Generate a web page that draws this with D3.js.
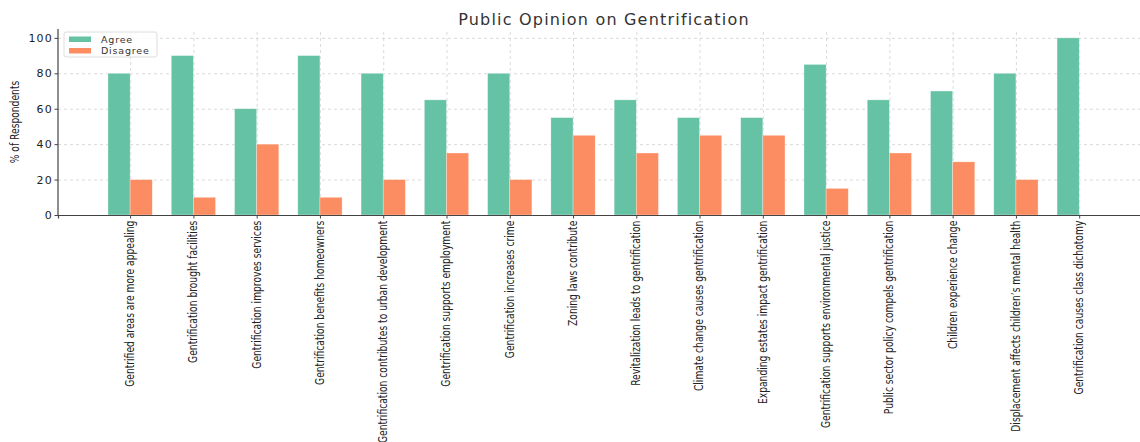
<!DOCTYPE html>
<html>
<head>
<meta charset="utf-8">
<script src="https://cdn.jsdelivr.net/npm/d3@7"></script>
<style>
  body { margin: 0; background: #fff; }
  .grid line { stroke: #d0d0d0; stroke-dasharray: 3,3; stroke-width: 0.8; }
  .grid path { display: none; }
</style>
</head>
<body>
<div id="chart"></div>
<script>
// statements on the x axis
var statements = [
    "Gentrified areas are more appealing",
    "Gentrification brought facilities",
    "Gentrification improves services",
    "Gentrification benefits homeowners",
    "Gentrification contributes to urban development",
    "Gentrification supports employment",
    "Gentrification increases crime",
    "Zoning laws contribute",
    "Revitalization leads to gentrification",
    "Climate change causes gentrification",
    "Expanding estates impact gentrification",
    "Gentrification supports environmental justice",
    "Public sector policy compels gentrification",
    "Children experience change",
    "Displacement affects children\u2019s mental health",
    "Gentrification causes class dichotomy"
];
var agree = [80, 90, 60, 90, 80, 65, 80, 55, 65, 55, 55, 85, 65, 70, 80, 100];
var disagree = [20, 10, 40, 10, 20, 35, 20, 45, 35, 45, 45, 15, 35, 30, 20, 0];
var yTicks = [0, 20, 40, 60, 80, 100];

var W = 1140, H = 442;
var mLeft = 58, mRight = 1145, mTop = 29, mBottom = 215;
var barW = 0.35;

var svg = d3.select("#chart").append("svg")
    .attr("width", W)
    .attr("height", H);

// linear x scale over category index, like matplotlib
var xScale = d3.scaleLinear()
    .domain([-1.14, 16.04])
    .range([mLeft, mRight]);

var yScale = d3.scaleLinear()
    .domain([0, 105])
    .range([mBottom, mTop]);

// grid lines
svg.append("g")
    .attr("class", "grid")
    .attr("transform", "translate(0," + mBottom + ")")
    .call(d3.axisBottom(xScale).tickValues(d3.range(statements.length))
        .tickSize(-(mBottom - mTop)).tickFormat(""));

svg.append("g")
    .attr("class", "grid")
    .attr("transform", "translate(" + mLeft + ",0)")
    .call(d3.axisLeft(yScale).tickValues(yTicks)
        .tickSize(-(mRight - mLeft)).tickFormat(""));

// bars
var series = [
    { name: "Agree", values: agree, color: "#66c2a5", offset: -barW },
    { name: "Disagree", values: disagree, color: "#fc8d62", offset: 0 }
];

series.forEach(function (s) {
    svg.append("g").selectAll("rect")
        .data(s.values)
        .enter().append("rect")
        .attr("x", function (d, i) { return xScale(i + s.offset); })
        .attr("width", xScale(barW) - xScale(0))
        .attr("y", function (d) { return yScale(d); })
        .attr("height", function (d) { return yScale(0) - yScale(d); })
        .attr("fill", s.color)
        .attr("stroke", "#fff")
        .attr("stroke-opacity", 0.5)
        .attr("stroke-width", 0.6);
});

// x axis
var xAxis = svg.append("g")
    .attr("transform", "translate(0," + mBottom + ")")
    .call(d3.axisBottom(xScale).tickValues(d3.range(statements.length))
        .tickSize(3.5).tickFormat(function (d) { return statements[d]; }));
xAxis.select(".domain").attr("stroke", "#444").attr("stroke-width", 1.2);
xAxis.selectAll(".tick line").attr("stroke", "#444");
xAxis.selectAll(".tick text")
    .attr("transform", "rotate(-90) scale(0.815,1)")
    .attr("x", -7)
    .attr("y", -1)
    .attr("dy", "0.35em")
    .style("text-anchor", "end")
    .style("font-family", "'Liberation Sans Narrow', 'DejaVu Sans Condensed', sans-serif")
    .style("font-size", "12.5px")
    .attr("fill", "#222");

// y axis
var yAxis = svg.append("g")
    .attr("transform", "translate(" + mLeft + ",0)")
    .call(d3.axisLeft(yScale).tickValues(yTicks).tickSize(3.5));
yAxis.select(".domain").attr("d", "M0," + mTop + "V" + mBottom)
    .attr("stroke", "#444").attr("stroke-width", 1.2);
yAxis.selectAll(".tick line").attr("stroke", "#444");
yAxis.selectAll(".tick text")
    .attr("x", -5)
    .style("font-family", "'DejaVu Sans', sans-serif")
    .style("font-size", "11px")
    .style("letter-spacing", "1.2px")
    .attr("fill", "#222");

svg.append("text")
    .attr("transform", "translate(19," + 122 + ") rotate(-90) scale(0.815,1)")
    .attr("text-anchor", "middle")
    .style("font-family", "'Liberation Sans Narrow', 'DejaVu Sans Condensed', sans-serif")
    .style("font-size", "12.5px")
    .attr("fill", "#222")
    .text("% of Respondents");

// title
svg.append("text")
    .attr("x", 604)
    .attr("y", 25)
    .attr("text-anchor", "middle")
    .style("font-family", "'DejaVu Sans', sans-serif")
    .style("font-size", "16px")
    .style("letter-spacing", "1.2px")
    .attr("fill", "#333")
    .text("Public Opinion on Gentrification");

// legend
var legend = svg.append("g").attr("transform", "translate(64,32)");
legend.append("rect")
    .attr("width", 93).attr("height", 25)
    .attr("rx", 2)
    .attr("fill", "#fff").attr("fill-opacity", 0.85)
    .attr("stroke", "#ddd");
series.forEach(function (s, i) {
    legend.append("rect")
        .attr("x", 5).attr("y", 4.5 + i * 11.5)
        .attr("width", 22).attr("height", 5.5)
        .attr("fill", s.color);
    legend.append("text")
        .attr("x", 37).attr("y", 7.2 + i * 11.5)
        .attr("dy", "0.35em")
        .style("font-family", "'DejaVu Sans', sans-serif")
        .style("font-size", "9.5px")
        .style("letter-spacing", "0.8px")
        .attr("fill", "#333")
        .text(s.name);
});
</script>
</body>
</html>
